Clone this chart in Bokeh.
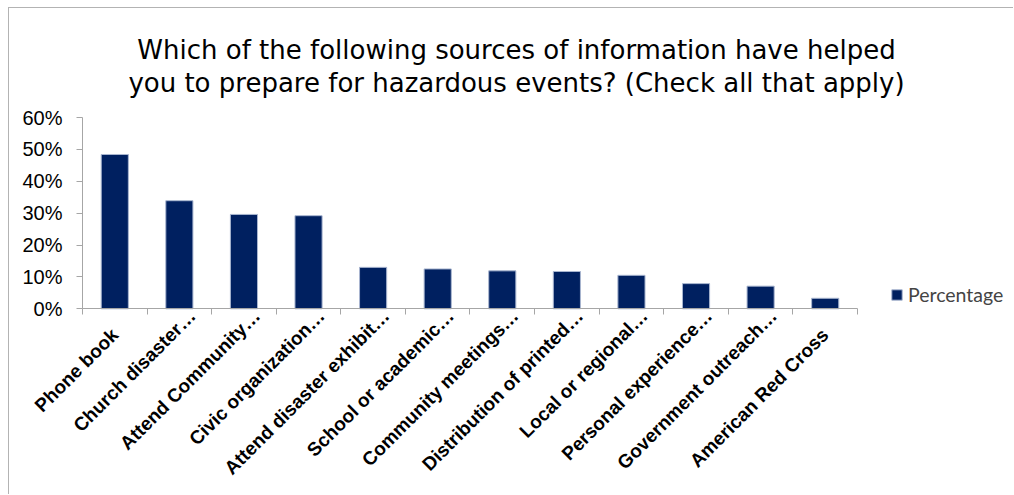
import numpy as np
from bokeh.plotting import figure
from bokeh.models import (Range1d, FixedTicker, NumeralTickFormatter, Label,
                          ColumnDataSource, LinearAxis)
from bokeh.embed import file_html
from bokeh.resources import INLINE

categories = ["Phone book", "Church disaster\u2026", "Attend Community\u2026",
              "Civic organization\u2026", "Attend disaster exhibit\u2026",
              "School or academic\u2026", "Community meetings\u2026",
              "Distribution of printed\u2026", "Local or regional\u2026",
              "Personal experience\u2026", "Government outreach\u2026",
              "American Red Cross"]
values = [0.484, 0.339, 0.296, 0.292, 0.130, 0.125, 0.119, 0.117, 0.105, 0.079, 0.071, 0.033]
series_name = "Percentage"
y_ticks = [0.0, 0.1, 0.2, 0.3, 0.4, 0.5, 0.6]
title_lines = ["Which of the following sources of information have helped",
               "you to prepare for hazardous events? (Check all that apply)"]

n = len(categories)
centers = list(np.arange(n) + 0.5)
source = ColumnDataSource(dict(x=centers, top=values, cat=categories))

# the frame covers the whole figure so that title, legend and tick labels are drawn inside;
# both axes sit at the data origin and are bounded to the data area
p = figure(width=1005, height=487, output_backend="svg", toolbar_location=None,
           x_range=Range1d(-1.1303, n + 2.431), y_range=Range1d(-0.5856, 0.9419),
           min_border_left=0, min_border_right=0, min_border_top=0, min_border_bottom=0,
           styles={"margin-left": "8px", "margin-top": "7px",
                   "border-left": "1px solid #b3b3b3", "border-top": "1px solid #b3b3b3"})
p.outline_line_color = None
p.xgrid.visible = False
p.ygrid.visible = False

p.vbar(x="x", top="top", width=0.42, source=source, fill_color="#002060",
       line_color="#a9b6d0", line_width=1, legend_label=series_name)

axis_color = "#a6a6a6"

def style_xlabels(ax, standoff):
    ax.major_label_orientation = np.pi / 4
    ax.major_label_text_font = "Liberation Sans"
    ax.major_label_text_font_style = "bold"
    ax.major_label_text_font_size = "19px"
    ax.major_label_text_color = "black"
    ax.major_label_standoff = standoff
    ax.major_tick_out = 0
    ax.major_tick_in = 0

# full labels: anchored at the category centre
full = [(c, lab) for c, lab in zip(centers, categories) if not lab.endswith("\u2026")]
# truncated labels: the ellipsis hangs past the anchor point, as in the original
trunc = [(c + 0.2, lab) for c, lab in zip(centers, categories) if lab.endswith("\u2026")]

xa = p.xaxis[0]
xa.fixed_location = 0
xa.bounds = (0, n)
xa.ticker = FixedTicker(ticks=[c for c, _ in full], minor_ticks=list(range(n + 1)))
xa.major_label_overrides = {c: lab for c, lab in full}
xa.minor_tick_out = 6
xa.minor_tick_in = 0
xa.minor_tick_line_color = axis_color
xa.axis_line_color = axis_color
style_xlabels(xa, 17)

xb = LinearAxis(fixed_location=0, bounds=(0, n),
                ticker=FixedTicker(ticks=[c for c, _ in trunc], minor_ticks=[]),
                major_label_overrides={c: lab for c, lab in trunc})
xb.axis_line_color = None
xb.major_tick_line_color = None
xb.minor_tick_line_color = None
style_xlabels(xb, 4)
p.add_layout(xb, "below")

ya = p.yaxis[0]
ya.fixed_location = 0
ya.bounds = (0, 0.6)
ya.ticker = FixedTicker(ticks=y_ticks, minor_ticks=[])
ya.formatter = NumeralTickFormatter(format="0%")
ya.major_tick_out = 6
ya.major_tick_in = 0
ya.major_tick_line_color = axis_color
ya.axis_line_color = axis_color
ya.major_label_text_font = "Liberation Sans"
ya.major_label_text_font_size = "20px"
ya.major_label_text_color = "black"
ya.major_label_standoff = 14

for txt, yy in zip(title_lines, [445.5, 413.0]):
    p.add_layout(Label(x=507, y=yy, x_units="screen", y_units="screen", text=txt,
                       text_align="center", text_baseline="alphabetic",
                       text_font="DejaVu Sans", text_font_size="26px", text_color="black"))

lg = p.legend[0]
lg.location = (881, 189.5)
lg.glyph_width = 13
lg.glyph_height = 13
lg.label_text_font = "Lato"
lg.label_text_font_size = "19.5px"
lg.label_standoff = 5
lg.padding = 0
lg.margin = 0
lg.spacing = 0
lg.border_line_alpha = 0
lg.background_fill_alpha = 0

open("out.html", "w").write(file_html(p, INLINE))
